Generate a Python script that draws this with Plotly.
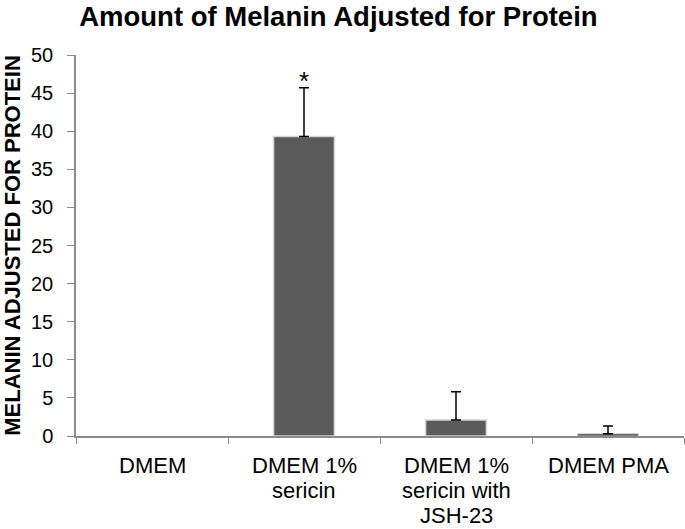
import plotly.graph_objects as go

categories = ["DMEM", "DMEM 1% sericin", "DMEM 1% sericin with JSH-23", "DMEM PMA"]
label_lines = [["DMEM"], ["DMEM 1%", "sericin"], ["DMEM 1%", "sericin with", "JSH-23"], ["DMEM PMA"]]
values = [0.0, 39.3, 2.1, 0.3]
errors_upper = [0.0, 6.4, 3.7, 1.0]
significance = ["", "*", "", ""]
y_ticks = [0, 5, 10, 15, 20, 25, 30, 35, 40, 45, 50]

FONT = "Liberation Sans, Arial, sans-serif"

fig = go.Figure()
fig.add_trace(go.Bar(
    x=categories,
    y=values,
    width=0.4,
    marker=dict(color="#5a5a5a",
                line=dict(color="#d4d4d4",
                          width=[0 if v == 0 else (0.6 if v < 1 else 1.5) for v in values])),
    showlegend=False,
))

# upper error bars only where an error exists
err_idx = [i for i, e in enumerate(errors_upper) if e > 0]
fig.add_trace(go.Scatter(
    x=[categories[i] for i in err_idx],
    y=[values[i] for i in err_idx],
    mode="markers", marker=dict(size=0.1, opacity=0),
    error_y=dict(type="data", symmetric=False,
                 array=[errors_upper[i] for i in err_idx],
                 arrayminus=[0 for _ in err_idx],
                 color="black", thickness=1.5, width=5),
    showlegend=False, hoverinfo="skip",
))

for c, v, e, s in zip(categories, values, errors_upper, significance):
    if s:
        fig.add_annotation(x=c, y=v + e, text=s, showarrow=False,
                           yanchor="bottom", yshift=-10,
                           font=dict(family=FONT, size=26, color="black"))

for c, lines in zip(categories, label_lines):
    for i, line in enumerate(lines):
        fig.add_annotation(x=c, xref="x", y=0, yref="paper", text=line,
                           showarrow=False, yanchor="middle",
                           yshift=-(29 + 25 * i),
                           font=dict(family=FONT, size=22, color="black"))

fig.update_layout(
    width=685, height=529,
    margin=dict(l=76, r=1, t=55, b=93),
    paper_bgcolor="white", plot_bgcolor="white",
    title=dict(text="<b>Amount of Melanin Adjusted for Protein</b>",
               x=0.494, xanchor="center", y=1 - 16 / 529, yanchor="middle", yref="container",
               font=dict(family=FONT, size=27.5, color="black")),
    font=dict(family=FONT, color="black"),
)
fig.update_xaxes(
    showline=True, linecolor="#8c8c8c", linewidth=1.5,
    ticks="outside", tickson="boundaries", ticklen=6, tickcolor="#8c8c8c",
    showticklabels=False, automargin=False,
    showgrid=False,
)
fig.update_yaxes(
    range=[0, 50], tickvals=y_ticks,
    showline=True, linecolor="#8c8c8c", linewidth=1.5,
    ticks="outside", ticklen=7, tickcolor="#8c8c8c",
    tickfont=dict(family=FONT, size=20, color="black"),
    ticklabelstandoff=10,
    showgrid=False, zeroline=False, automargin=False,
    title=dict(text="<b>MELANIN ADJUSTED FOR PROTEIN</b>", standoff=10,
               font=dict(family=FONT, size=22, color="black")),
)

fig.write_html("out.html", config={"displayModeBar": False},
               post_script="document.body.style.margin='0';")
